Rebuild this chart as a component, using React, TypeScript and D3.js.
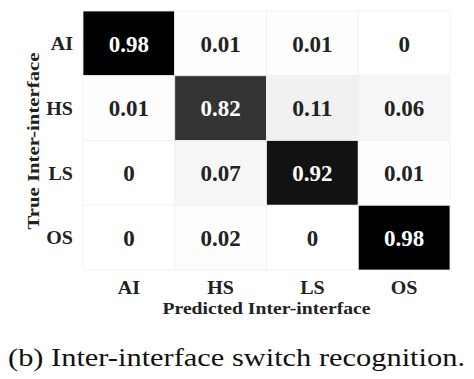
import React from "react";
import * as d3 from "d3";

const trueLabels = ["AI", "HS", "LS", "OS"];
const predLabels = ["AI", "HS", "LS", "OS"];
const matrix: number[][] = [
  [0.98, 0.01, 0.01, 0],
  [0.01, 0.82, 0.11, 0.06],
  [0, 0.07, 0.92, 0.01],
  [0, 0.02, 0, 0.98],
];
const xTitle = "Predicted Inter-interface";
const yTitle = "True Inter-interface";
const caption = "(b) Inter-interface switch recognition.";

const W = 474;
const H = 379;
const gridLeft = 83;
const gridRight = 450;
const gridTop = 11;
const gridBottom = 270;

// approximate Times Bold advance widths (em) to emulate the original font's widths
const timesBold: Record<string, number> = {
  "0": 0.5, "1": 0.5, "2": 0.5, "3": 0.5, "4": 0.5, "5": 0.5, "6": 0.5, "7": 0.5, "8": 0.5, "9": 0.5,
  ".": 0.25, A: 0.722, I: 0.389, H: 0.778, S: 0.556, L: 0.667, O: 0.778,
};
const tw = (s: string, fs: number) => s.split("").reduce((a, c) => a + (timesBold[c] ?? 0.5), 0) * fs;

export default function App() {
  const x = d3.scaleBand<string>().domain(predLabels).range([gridLeft, gridRight]);
  const y = d3.scaleBand<string>().domain(trueLabels).range([gridTop, gridBottom]);
  const maxV = d3.max(matrix.flat()) as number;
  const color = d3.scaleSequential(d3.interpolateGreys).domain([0, maxV]);
  const serif = "Times New Roman, Liberation Serif, Tinos, serif";
  const cells: React.ReactNode[] = [];
  matrix.forEach((row, i) => {
    row.forEach((v, j) => {
      const px = x(predLabels[j]) as number;
      const py = y(trueLabels[i]) as number;
      const dark = v / maxV > 0.5;
      const s = String(v);
      cells.push(
        <g key={`${i}-${j}`}>
          <rect x={px} y={py} width={x.bandwidth()} height={y.bandwidth()} fill={color(v)} stroke="#f0f0f0" strokeWidth={0.8} />
          <text
            x={px + x.bandwidth() / 2}
            y={py + y.bandwidth() / 2}
            dy="0.36em"
            textAnchor="middle"
            fontFamily={serif}
            fontWeight="bold"
            fontSize={23}
            textLength={tw(s, 23)}
            lengthAdjust="spacingAndGlyphs"
            fill={dark ? "#ffffff" : "#222222"}
          >
            {s}
          </text>
        </g>
      );
    });
  });
  return (
    <svg width={W} height={H} style={{ position: "absolute", left: 0, top: 0, background: "#fff" }}>
      <rect x={0} y={0} width={W} height={H} fill="#fff" />
      {cells}
      {trueLabels.map((l) => (
        <text key={l} x={73} y={(y(l) as number) + y.bandwidth() / 2} dy="0.36em" textAnchor="end" fontFamily={serif} fontWeight="bold" fontSize={18.5} textLength={tw(l, 20)} lengthAdjust="spacingAndGlyphs" fill="#222">
          {l}
        </text>
      ))}
      {predLabels.map((l) => (
        <text key={l} x={(x(l) as number) + x.bandwidth() / 2} y={287} dy="0.36em" textAnchor="middle" fontFamily={serif} fontWeight="bold" fontSize={18.5} textLength={tw(l, 20)} lengthAdjust="spacingAndGlyphs" fill="#222">
          {l}
        </text>
      ))}
      <text x={(gridLeft + gridRight) / 2} y={308} dy="0.36em" textAnchor="middle" fontFamily={serif} fontWeight="bold" fontSize={17} textLength={208} lengthAdjust="spacingAndGlyphs" fill="#222">
        {xTitle}
      </text>
      <text transform={`translate(33, 141) rotate(-90)`} dy="0.36em" textAnchor="middle" fontFamily={serif} fontWeight="bold" fontSize={17} textLength={177} lengthAdjust="spacingAndGlyphs" fill="#222">
        {yTitle}
      </text>
      <text x={8} y={366} fontFamily={serif} fontSize={25} fill="#111" textLength={457} lengthAdjust="spacingAndGlyphs">
        {caption}
      </text>
    </svg>
  );
}
